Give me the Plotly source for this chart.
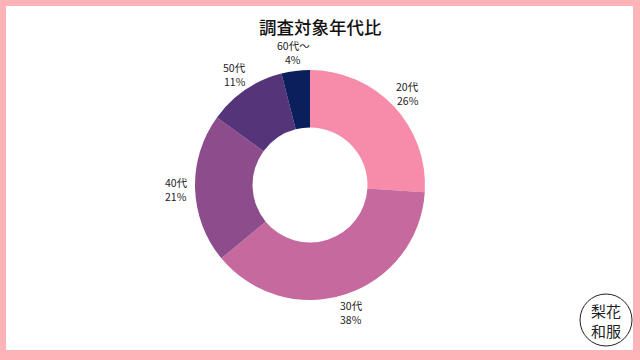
import math
import plotly.graph_objects as go

categories = ["20代", "30代", "40代", "50代", "60代〜"]
values = [26, 38, 21, 11, 4]
pct_labels = ["26%", "38%", "21%", "11%", "4%"]
colors = ["#F78BAA", "#C6699E", "#8D4C8B", "#553479", "#0B1F5C"]

W, H = 640, 360
cx_px, cy_px, R = 310, 185, 115

fig = go.Figure(go.Pie(
    labels=categories, values=values, sort=False, direction="clockwise",
    hole=0.5, marker=dict(colors=colors, line=dict(width=0)),
    textinfo="none", hoverinfo="label+percent", showlegend=False,
    domain=dict(x=[(cx_px - R) / W, (cx_px + R) / W],
                y=[1 - (cy_px + R) / H, 1 - (cy_px - R) / H]),
))

# labels placed around the donut at each slice's mid-angle
total = sum(values)
cum = 0
label_r = 134
lab_font = dict(size=10.5, color="#222222", family="Noto Sans CJK JP")
for cat, v, p in zip(categories, values, pct_labels):
    mid = (cum + v / 2) / total * 2 * math.pi
    cum += v
    xp = cx_px + label_r * math.sin(mid)
    yp = cy_px - label_r * math.cos(mid)
    fig.add_annotation(x=xp / W, y=1 - (yp - 7) / H, xref="paper", yref="paper",
                       text=cat, showarrow=False, font=lab_font, borderpad=0,
                       xanchor="center", yanchor="middle")
    fig.add_annotation(x=xp / W, y=1 - (yp + 7) / H, xref="paper", yref="paper",
                       text=p, showarrow=False, font=lab_font, borderpad=0,
                       xanchor="center", yanchor="middle")

fig.add_annotation(x=320 / W, y=1 - 26.5 / H, xref="paper", yref="paper",
                   text="調査対象年代比", showarrow=False, borderpad=0,
                   font=dict(size=17.5, color="#111111", family="Noto Sans CJK JP", weight=500),
                   xanchor="center", yanchor="middle")

# logo
lx, ly, lr = 606, 320, 26
fig.add_shape(type="circle", xref="paper", yref="paper",
              x0=(lx - lr) / W, x1=(lx + lr) / W,
              y0=1 - (ly + lr) / H, y1=1 - (ly - lr) / H,
              line=dict(color="#222222", width=1), fillcolor="white")
logo_font = dict(size=15, color="#222222", family="Noto Sans CJK JP")
fig.add_annotation(x=lx / W, y=1 - (ly - 10) / H, xref="paper", yref="paper",
                   text="梨花", showarrow=False, font=logo_font, borderpad=0,
                   xanchor="center", yanchor="middle")
fig.add_annotation(x=lx / W, y=1 - (ly + 10) / H, xref="paper", yref="paper",
                   text="和服", showarrow=False, font=logo_font, borderpad=0,
                   xanchor="center", yanchor="middle")

# white card on pink frame
fig.add_shape(type="rect", xref="paper", yref="paper", layer="below",
              x0=6 / W, x1=633 / W, y0=1 - 350 / H, y1=1 - 6 / H,
              line=dict(width=0), fillcolor="white")

fig.update_layout(width=W, height=H, margin=dict(l=0, r=0, t=0, b=0),
                  paper_bgcolor="#FDB3B8", plot_bgcolor="white")
fig.write_html("out.html")
